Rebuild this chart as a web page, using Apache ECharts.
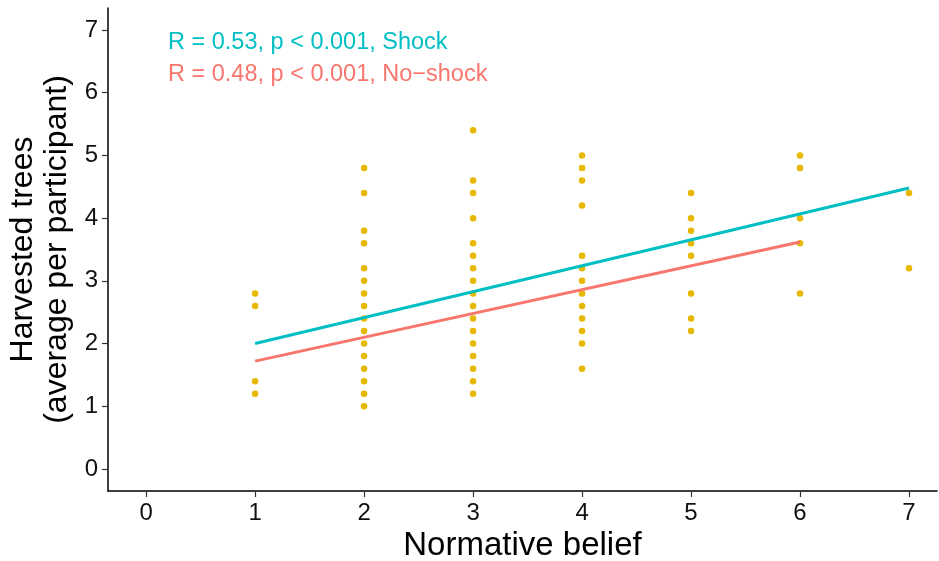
<!DOCTYPE html>
<html>
<head>
<meta charset="utf-8">
<script src="https://cdn.jsdelivr.net/npm/echarts@6/dist/echarts.min.js"></script>
<style>html,body{margin:0;padding:0;background:#fff}#c{width:939px;height:561px}</style>
</head>
<body>
<div id="c"></div>
<script>
// ---- data ----
const xTicks = [0, 1, 2, 3, 4, 5, 6, 7];
const yTicks = [0, 1, 2, 3, 4, 5, 6, 7];
const beliefLevels = [1, 2, 3, 4, 5, 6, 7];
const harvested1 = [2.8, 2.6, 1.4, 1.2];
const harvested2 = [4.8, 4.4, 3.8, 3.6, 3.2, 3.0, 2.8, 2.6, 2.4, 2.2, 2.0, 1.8, 1.6, 1.4, 1.2, 1.0];
const harvested3 = [5.4, 4.6, 4.4, 4.0, 3.6, 3.4, 3.2, 3.0, 2.8, 2.6, 2.4, 2.2, 2.0, 1.8, 1.6, 1.4, 1.2];
const harvested4 = [5.0, 4.8, 4.6, 4.2, 3.4, 3.2, 3.0, 2.8, 2.6, 2.4, 2.2, 2.0, 1.6];
const harvested5 = [4.4, 4.0, 3.8, 3.6, 3.4, 2.8, 2.4, 2.2];
const harvested6 = [5.0, 4.8, 4.0, 3.6, 2.8];
const harvested7 = [4.4, 3.2];
const shockFitX = [1, 7];
const shockFitY = [2.0, 4.48];
const noShockFitX = [1, 6];
const noShockFitY = [1.72, 3.62];
const annotations = ["R = 0.53, p < 0.001, Shock", "R = 0.48, p < 0.001, No\u2212shock"];

// ---- build ----
const byLevel = [harvested1, harvested2, harvested3, harvested4, harvested5, harvested6, harvested7];
const points = [];
beliefLevels.forEach((b, i) => byLevel[i].forEach(v => points.push([b, v])));
const shockLine = shockFitX.map((x, i) => [x, shockFitY[i]]);
const noShockLine = noShockFitX.map((x, i) => [x, noShockFitY[i]]);

const FONT = 'Liberation Sans';
const TEAL = '#00BFC4', RED = '#F8766D', GOLD = '#E7B800';

const chart = echarts.init(document.getElementById('c'), null, {renderer: 'canvas'});
chart.setOption({
  animation: false,
  backgroundColor: '#fff',
  textStyle: {fontFamily: FONT},
  grid: {left: 108, right: 2, top: 8, bottom: 70, containLabel: false, outerBoundsMode: 'none'},
  xAxis: {
    type: 'value', min: -0.35, max: 7.257,
    name: 'Normative belief', nameLocation: 'middle', nameGap: 31,
    nameTextStyle: {fontSize: 33, color: '#000', fontFamily: FONT},
    axisLine: {onZero: false, lineStyle: {color: '#000', width: 1.5}},
    axisTick: {show: true, customValues: xTicks, length: 6, lineStyle: {color: '#333', width: 1.2}},
    axisLabel: {customValues: xTicks, fontSize: 24, color: '#111', margin: 10, fontFamily: FONT},
    splitLine: {show: false}
  },
  yAxis: {
    type: 'value', min: -0.351, max: 7.351,
    name: 'Harvested trees\n(average per participant)', nameLocation: 'middle', nameGap: 17, nameRotate: 90,
    nameTextStyle: {fontSize: 32, color: '#000', lineHeight: 34, fontFamily: FONT},
    axisLine: {onZero: false, lineStyle: {color: '#000', width: 1.5}},
    axisTick: {show: true, customValues: yTicks, length: 6, lineStyle: {color: '#333', width: 1.2}},
    axisLabel: {customValues: yTicks, fontSize: 24, color: '#111', margin: 10, fontFamily: FONT},
    splitLine: {show: false}
  },
  series: [
    {type: 'scatter', data: points, symbolSize: 6.5, itemStyle: {color: GOLD, opacity: 1}, z: 2},
    {type: 'line', data: shockLine, showSymbol: false, symbol: 'none', lineStyle: {color: TEAL, width: 3}, z: 3},
    {type: 'line', data: noShockLine, showSymbol: false, symbol: 'none', lineStyle: {color: RED, width: 3}, z: 3}
  ],
  graphic: [
    {type: 'text', left: 168, top: 31, style: {text: annotations[0], fill: TEAL, fontSize: 23.5, fontFamily: FONT}},
    {type: 'text', left: 168, top: 63, style: {text: annotations[1], fill: RED, fontSize: 23.5, fontFamily: FONT}}
  ]
});
</script>
</body>
</html>
